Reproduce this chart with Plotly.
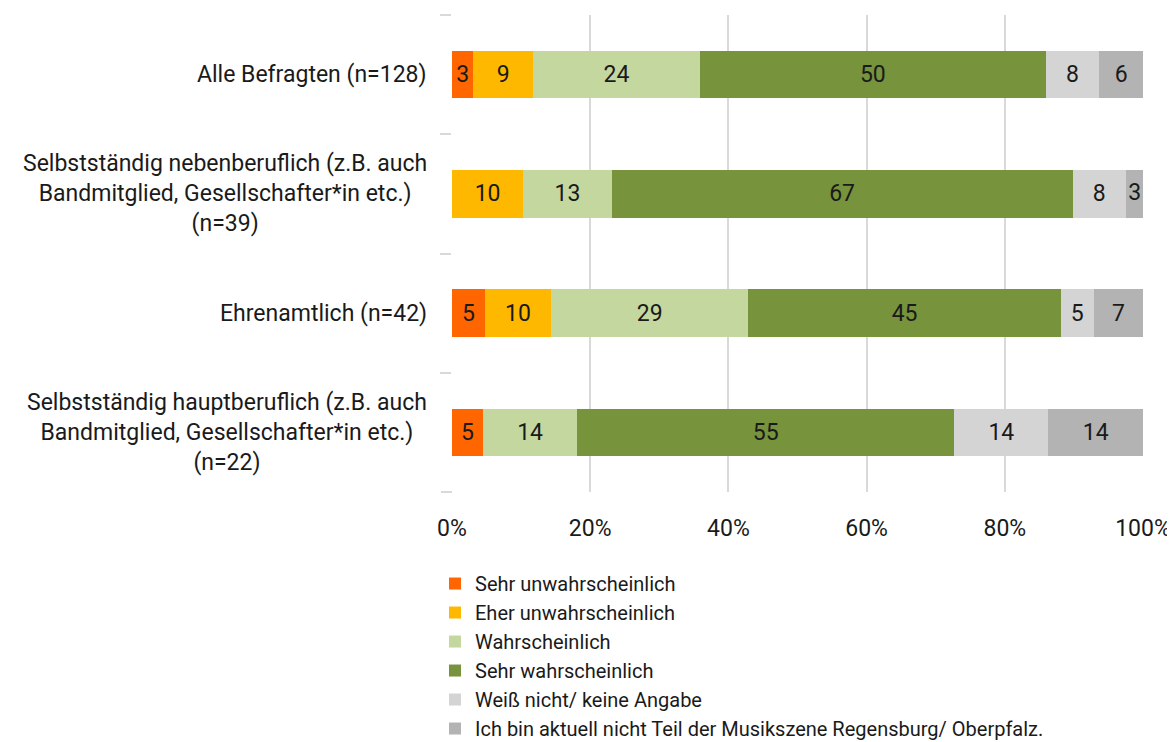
import plotly.graph_objects as go

categories = [
    "Alle Befragten (n=128)",
    "Selbstständig nebenberuflich (z.B. auch<br>Bandmitglied, Gesellschafter*in etc.)<br>(n=39)",
    "Ehrenamtlich (n=42)",
    "Selbstständig hauptberuflich (z.B. auch<br>Bandmitglied, Gesellschafter*in etc.)<br>(n=22)",
]
cat_keys = ["alle", "neben", "ehren", "haupt"]

series_names = [
    "Sehr unwahrscheinlich",
    "Eher unwahrscheinlich",
    "Wahrscheinlich",
    "Sehr wahrscheinlich",
    "Weiß nicht/ keine Angabe",
    "Ich bin aktuell nicht Teil der Musikszene Regensburg/ Oberpfalz.",
]

# percentages per category (order of cat_keys)
sehr_unwahrscheinlich = [3.1, 0.0, 4.8, 4.5]
eher_unwahrscheinlich = [8.6, 10.3, 9.5, 0.0]
wahrscheinlich = [24.2, 12.8, 28.6, 13.6]
sehr_wahrscheinlich = [50.0, 66.7, 45.2, 54.6]
weiss_nicht = [7.8, 7.7, 4.8, 13.6]
nicht_teil = [6.3, 2.6, 7.1, 13.7]

series_values = [sehr_unwahrscheinlich, eher_unwahrscheinlich, wahrscheinlich,
                 sehr_wahrscheinlich, weiss_nicht, nicht_teil]
colors = ["#FF6600", "#FFB800", "#C4D79F", "#77933C", "#D4D4D4", "#B3B3B3"]

x_ticks = [0, 20, 40, 60, 80, 100]
x_tick_labels = ["0%", "20%", "40%", "60%", "80%", "100%"]

FONT = "Roboto"
TXT = "#1a1a1a"
FS = 23
NARROW = 3.0  # segments narrower than this get their label from a text trace

fig = go.Figure()
small_x, small_y, small_t = [], [], []
cum = [0.0] * len(cat_keys)
for name, vals, col in zip(series_names, series_values, colors):
    labels = []
    for i, v in enumerate(vals):
        lab = str(int(v + 0.5)) if v > 0 else ""
        if 0 < v < NARROW:
            small_x.append(cum[i] + v / 2)
            small_y.append(cat_keys[i])
            small_t.append(lab)
            lab = ""
        labels.append(lab)
        cum[i] += v
    fig.add_trace(go.Bar(
        y=cat_keys, x=vals, name=name, orientation="h",
        marker=dict(color=col, line=dict(width=0)),
        text=labels, textposition="inside", insidetextanchor="middle",
        textangle=0, constraintext="none", cliponaxis=False,
        textfont=dict(family=FONT, size=FS, color=TXT),
        hoverinfo="skip",
    ))

fig.add_trace(go.Scatter(
    x=small_x, y=small_y, text=small_t, mode="text",
    textposition="middle center", showlegend=False, cliponaxis=False,
    textfont=dict(family=FONT, size=FS, color=TXT), hoverinfo="skip",
))

for key, lab in zip(cat_keys, categories):
    fig.add_annotation(
        x=0, xref="paper", y=key, yref="y", xanchor="right", xshift=-23,
        text=lab, align="center", showarrow=False,
        font=dict(family=FONT, size=FS, color=TXT),
    )

# bottom category-boundary tick on the y axis
fig.add_shape(type="line", xref="paper", xsizemode="pixel", xanchor=0,
              x0=-11, x1=0, yref="paper", y0=0, y1=0,
              line=dict(color="#D9D9D9", width=2))

fig.update_layout(
    barmode="stack", bargap=0.6,
    width=1175, height=742,
    margin=dict(l=444, r=40, t=7, b=258, autoexpand=False),
    paper_bgcolor="white", plot_bgcolor="white",
    font=dict(family=FONT, size=FS, color=TXT),
    showlegend=True,
    legend=dict(
        orientation="v", x=-0.0246, xanchor="left", y=-0.151, yanchor="top",
        font=dict(family=FONT, size=20, color=TXT),
        traceorder="normal", itemwidth=30, tracegroupgap=0,
        bgcolor="rgba(0,0,0,0)",
    ),
    xaxis=dict(
        range=[0, 100], tickvals=x_ticks, ticktext=x_tick_labels,
        showgrid=True, gridcolor="#D9D9D9", gridwidth=2,
        zeroline=False, showline=False, ticks="", ticklabelstandoff=20,
        tickfont=dict(family=FONT, size=FS, color=TXT),
    ),
    yaxis=dict(
        autorange="reversed", showticklabels=False,
        ticks="outside", tickson="boundaries", ticklen=11,
        tickcolor="#D9D9D9", tickwidth=2,
        showline=False, showgrid=False, zeroline=False,
    ),
)

fig.write_html("out.html")
